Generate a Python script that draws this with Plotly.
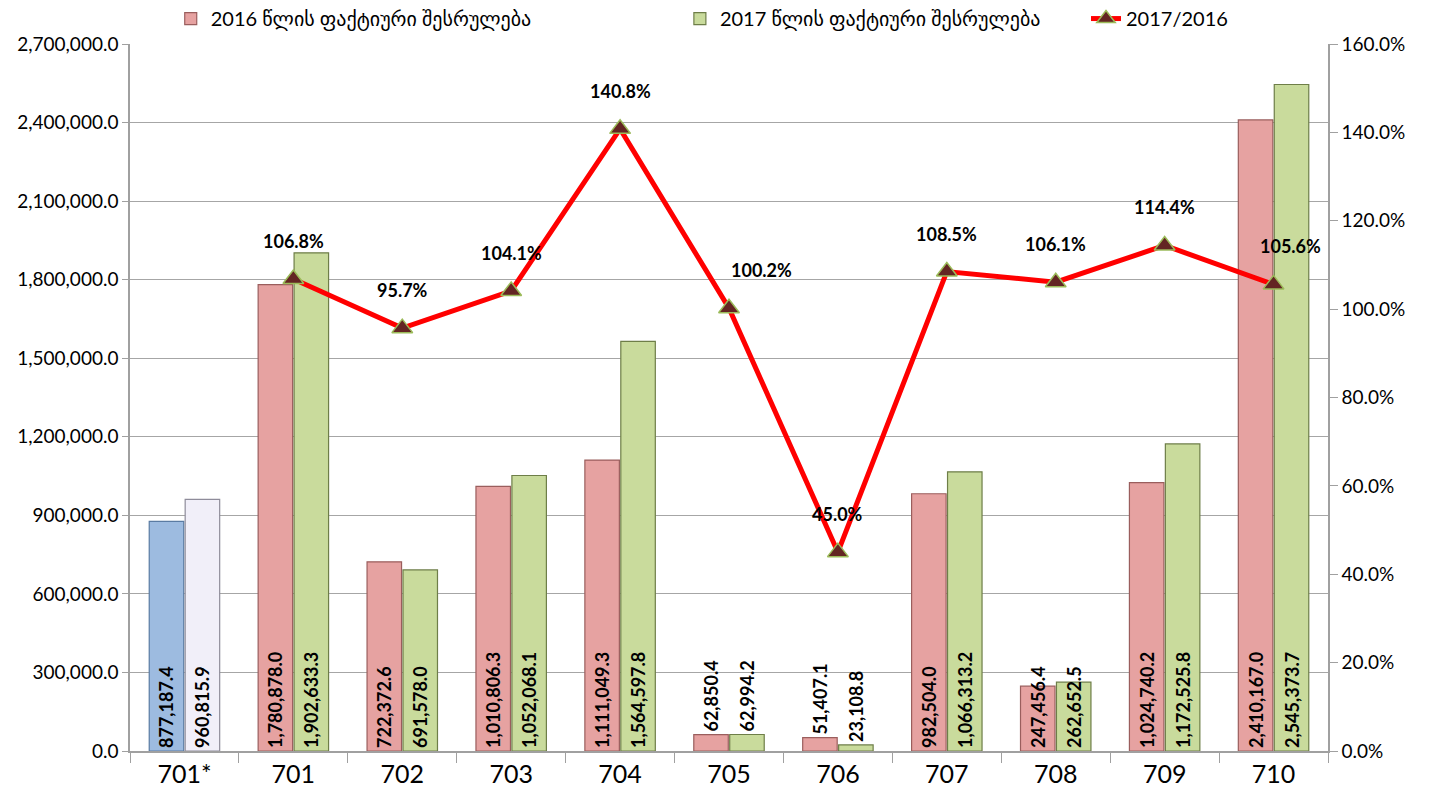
import plotly.graph_objects as go

categories = ["701*", "701", "702", "703", "704", "705", "706", "707", "708", "709", "710"]
values_2016 = [877187.4, 1780878.0, 722372.6, 1010806.3, 1111049.3, 62850.4, 51407.1, 982504.0, 247456.4, 1024740.2, 2410167.0]
values_2017 = [960815.9, 1902633.3, 691578.0, 1052068.1, 1564597.8, 62994.2, 23108.8, 1066313.2, 262652.5, 1172525.8, 2545373.7]
ratio_categories = ["701", "702", "703", "704", "705", "706", "707", "708", "709", "710"]
ratio_pct = [106.8, 95.7, 104.1, 140.8, 100.2, 45.0, 108.5, 106.1, 114.4, 105.6]
name_2016 = "2016 წლის ფაქტიური შესრულება"
name_2017 = "2017 წლის ფაქტიური შესრულება"
name_ratio = "2017/2016"

FONT = "Lato, 'DejaVu Sans', sans-serif"
BAR_FONT = dict(family=FONT, size=18, color="black", weight="bold")


def fmt(v):
    return f"{v:,.1f}"


def positions(vals):
    return ["outside" if v < 100000 else "inside" for v in vals]


def bar(x, y, name, color, line_color, group, showlegend, legend):
    return go.Bar(
        x=x, y=y, name=name, offsetgroup=group, showlegend=showlegend, legend=legend,
        marker=dict(color=color, line=dict(color=line_color, width=1.2)),
        text=[fmt(v) for v in y], textposition=positions(y),
        textangle=-90, insidetextanchor="start", constraintext="none",
        textfont=BAR_FONT, insidetextfont=BAR_FONT, outsidetextfont=BAR_FONT,
        cliponaxis=False,
    )


fig = go.Figure()
# main series (701 ... 710)
fig.add_trace(bar(categories[1:], values_2016[1:], name_2016, "#E6A2A1", "#9A5E5D", "a", True, "legend"))
fig.add_trace(bar(categories[1:], values_2017[1:], name_2017, "#C9DB9C", "#6E7E48", "b", True, "legend2"))
# 701* highlighted bars
fig.add_trace(bar(categories[:1], values_2016[:1], name_2016, "#9DBBE0", "#5A7BA3", "a", False, "legend"))
fig.add_trace(bar(categories[:1], values_2017[:1], name_2017, "#F1EFF9", "#8E8C9A", "b", False, "legend2"))

fig.add_trace(go.Scatter(
    x=ratio_categories, y=ratio_pct, name=name_ratio, yaxis="y2", legend="legend3",
    mode="lines+markers",
    line=dict(color="#FF0000", width=5),
    marker=dict(symbol="triangle-up", size=18, color="#632523",
                line=dict(color="#9BBB59", width=1.5)),
    cliponaxis=False,
))

label_xshift = {"705": 32, "710": 17}
for c, r in zip(ratio_categories, ratio_pct):
    fig.add_annotation(
        x=categories.index(c), y=r, xref="x", yref="y2", text=f"<b>{r:.1f}%</b>",
        showarrow=False, yshift=38, xshift=label_xshift.get(c, 0),
        font=dict(family=FONT, size=18, color="black"),
    )

legend_common = dict(orientation="h", yanchor="middle", y=1.036, xanchor="left",
                     font=dict(family=FONT, size=20, color="black"),
                     bgcolor="rgba(0,0,0,0)")

fig.update_layout(
    width=1429, height=799,
    margin=dict(l=130, r=101, t=44, b=48, autoexpand=False),
    paper_bgcolor="white", plot_bgcolor="white",
    barmode="group", bargap=0.34, bargroupgap=0.04,
    showlegend=True,
    legend=dict(x=0.034, **legend_common),
    legend2=dict(x=0.459, **legend_common),
    legend3=dict(x=0.798, **legend_common),
    xaxis=dict(
        type="category", categoryorder="array", categoryarray=categories,
        range=[-0.5, len(categories) - 0.5],
        showline=True, linecolor="#A0A0A0", linewidth=1.5,
        ticks="outside", tickson="boundaries", ticklen=10, tickcolor="#A0A0A0",
        tickfont=dict(family=FONT, size=25, color="black"), showgrid=False,
    ),
    yaxis=dict(
        range=[0, 2700000], dtick=300000, tickformat=",.1f",
        showgrid=True, gridcolor="#A6A6A6", gridwidth=1.3,
        showline=True, linecolor="#A0A0A0", linewidth=1.5,
        ticks="outside", ticklen=6, tickcolor="#A0A0A0",
        tickfont=dict(family=FONT, size=19, color="black"), zeroline=False,
    ),
    yaxis2=dict(
        overlaying="y", side="right", range=[0, 160], dtick=20,
        tickformat=".1f", ticksuffix="%", showgrid=False,
        showline=True, linecolor="#A0A0A0", linewidth=1.5,
        ticks="outside", ticklen=8, tickcolor="#A0A0A0",
        tickfont=dict(family=FONT, size=19, color="black"), zeroline=False,
    ),
)

fig.write_html("out.html", config={"displayModeBar": False},
               post_script="document.body.style.margin='0px';")
